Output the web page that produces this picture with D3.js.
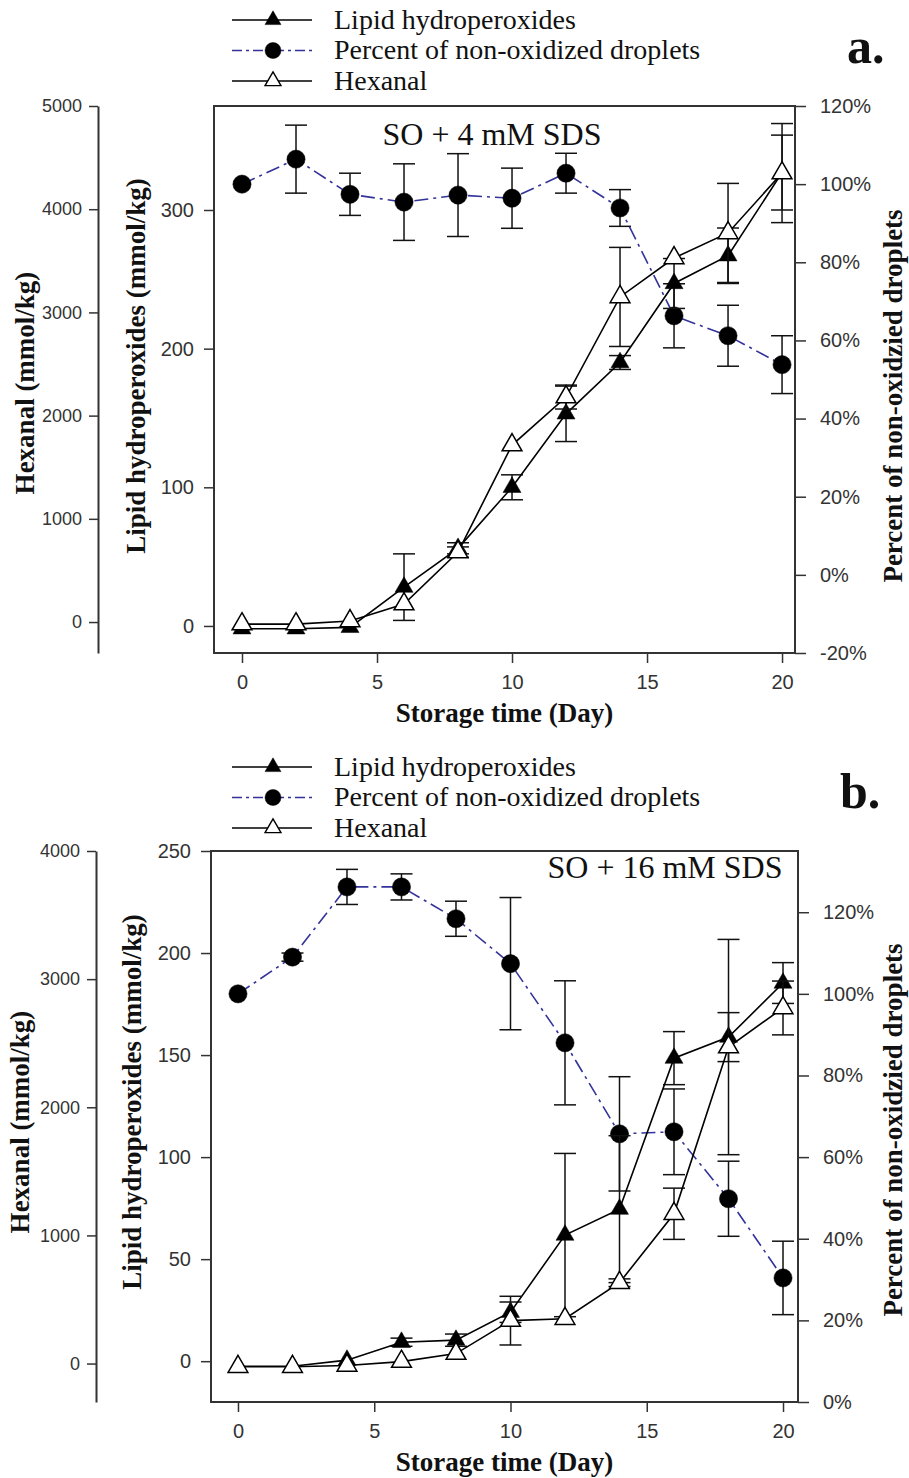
<!DOCTYPE html>
<html>
<head>
<meta charset="utf-8">
<script src="https://cdn.jsdelivr.net/npm/d3@7"></script>
<style>
body { margin: 0; background: #fff; }
svg { display: block; }
</style>
</head>
<body>
<div id="chart"></div>
<script>
var days = [0, 2, 4, 6, 8, 10, 12, 14, 16, 18, 20];
var xTicks = [0, 5, 10, 15, 20];
var legendLabels = ['Lipid hydroperoxides', 'Percent of non-oxidized droplets', 'Hexanal'];

// panel a - SO + 4 mM SDS
var lipidA = [-2, -2, -1, 28, 56, 100, 153, 190, 247, 267, 327];
var lipidErrA = [0, 0, 0, 24, 4, 9, 20, 5, 18, 20, 27];
var hexA = [-20, -20, 10, 174, 678, 1715, 2180, 3150, 3527, 3770, 4350];
var hexErrA = [0, 0, 0, 0, 50, 0, 116, 480, 0, 480, 480];
var pctA = [100, 106.4, 97.4, 95.4, 97.2, 96.4, 102.8, 93.9, 66.3, 61.2, 53.8];
var pctErrA = [0, 8.7, 5.4, 9.8, 10.6, 7.7, 5.1, 4.7, 8.2, 7.8, 7.4];
var lipidTicksA = [0, 100, 200, 300];
var hexTicksA = [0, 1000, 2000, 3000, 4000, 5000];
var pctTicksA = [-20, 0, 20, 40, 60, 80, 100, 120];

// panel b - SO + 16 mM SDS
var lipidB = [-2.5, -2.5, 0.5, 9.3, 10.3, 24, 61.8, 74.5, 148.5, 158.8, 185.3];
var lipidErrB = [0, 0, 0, 2, 3, 5, 40, 36, 13, 12, 10];
var hexB = [-25, -25, -15, 15, 78, 335, 350, 631, 1169, 2470, 2775];
var hexErrB = [0, 0, 0, 0, 0, 190, 0, 30, 200, 840, 210];
var pctB = [100, 109, 126.2, 126.2, 118.4, 107.4, 88.0, 65.7, 66.2, 49.8, 30.4];
var pctErrB = [0, 1, 4.3, 3.2, 4.3, 16.2, 15.2, 14, 10.5, 9.2, 9];
var lipidTicksB = [0, 50, 100, 150, 200, 250];
var hexTicksB = [0, 1000, 2000, 3000, 4000];
var pctTicksB = [0, 20, 40, 60, 80, 100, 120];

var width = 909, height = 1478;
var axisColor = '#333';
var blue = '#33339a';
var sans = "'Liberation Sans', Arial, sans-serif";
var serif = "'Liberation Serif', 'Times New Roman', serif";

var svg = d3.select('#chart').append('svg').attr('width', width).attr('height', height);

function zip(vals, errs) {
  return days.map(function (d, i) {
    return { day: d, v: vals[i], e: errs[i] };
  });
}

function styleAxis(g, size) {
  g.selectAll('.tick line').attr('stroke', axisColor).attr('stroke-width', 1.5);
  g.selectAll('.tick text').attr('fill', axisColor).style('font-family', sans).style('font-size', size + 'px');
}

function drawSeries(g, x, y, data, opts) {
  var bars = g.append('g');
  data.filter(function (d) { return d.e > 0; }).forEach(function (d) {
    var cx = x(d.day), y1 = y(d.v - d.e), y2 = y(d.v + d.e);
    bars.append('line').attr('x1', cx).attr('x2', cx).attr('y1', y1).attr('y2', y2);
    bars.append('line').attr('x1', cx - 11).attr('x2', cx + 11).attr('y1', y1).attr('y2', y1);
    bars.append('line').attr('x1', cx - 11).attr('x2', cx + 11).attr('y1', y2).attr('y2', y2);
  });
  bars.selectAll('line').attr('stroke', '#111').attr('stroke-width', 1.5);

  var line = d3.line().x(function (d) { return x(d.day); }).y(function (d) { return y(d.v); });
  g.append('path').datum(data).attr('d', line).attr('fill', 'none')
    .attr('stroke', opts.lineColor).attr('stroke-width', 1.6)
    .attr('stroke-dasharray', opts.dash || null);

  g.append('g').selectAll('path').data(data).join('path')
    .attr('transform', function (d) { return 'translate(' + x(d.day) + ',' + y(d.v) + ')'; })
    .attr('d', d3.symbol().type(opts.symbol).size(opts.size))
    .attr('fill', opts.fill).attr('stroke', '#000').attr('stroke-width', opts.fill === '#fff' ? 1.5 : 0.5);
}

var styles = {
  lipid: { symbol: d3.symbolTriangle, size: 140, fill: '#000', lineColor: '#000' },
  pct: { symbol: d3.symbolCircle, size: 260, fill: '#000', lineColor: blue, dash: '14,5,3,5' },
  hex: { symbol: d3.symbolTriangle, size: 170, fill: '#fff', lineColor: '#000' }
};

function drawPanel(p) {
  var g = svg.append('g');
  var x = d3.scaleLinear().domain(p.xDomain).range([p.left, p.right]);
  var yL = d3.scaleLinear().domain(p.lipidDomain).range([p.bottom, p.top]);
  var yH = d3.scaleLinear().domain(p.hexDomain).range([p.bottom, p.top]);
  var yP = d3.scaleLinear().domain(p.pctDomain).range([p.bottom, p.top]);

  var gx = g.append('g').attr('transform', 'translate(0,' + p.bottom + ')')
    .call(d3.axisBottom(x).tickValues(xTicks).tickSize(10).tickSizeOuter(0).tickPadding(12));
  gx.select('.domain').remove();
  styleAxis(gx, 20);

  var gl = g.append('g').attr('transform', 'translate(' + p.left + ',0)')
    .call(d3.axisLeft(yL).tickValues(p.lipidTicks).tickSize(10).tickSizeOuter(0).tickPadding(10));
  gl.select('.domain').remove();
  styleAxis(gl, 20);

  var gp = g.append('g').attr('transform', 'translate(' + p.right + ',0)')
    .call(d3.axisRight(yP).tickValues(p.pctTicks).tickSize(11).tickSizeOuter(0).tickPadding(14)
      .tickFormat(function (d) { return d + '%'; }));
  gp.select('.domain').remove();
  styleAxis(gp, 20);

  var gh = g.append('g').attr('transform', 'translate(' + p.hexX + ',0)')
    .call(d3.axisLeft(yH).tickValues(p.hexTicks).tickSize(9).tickSizeOuter(0).tickPadding(7)
      .tickFormat(d3.format('d')));
  gh.select('.domain').attr('stroke', axisColor).attr('stroke-width', 2);
  styleAxis(gh, 18);

  g.append('rect').attr('x', p.left).attr('y', p.top)
    .attr('width', p.right - p.left).attr('height', p.bottom - p.top)
    .attr('fill', 'none').attr('stroke', axisColor).attr('stroke-width', 2);

  drawSeries(g, x, yP, zip(p.pct, p.pctErr), styles.pct);
  drawSeries(g, x, yL, zip(p.lipid, p.lipidErr), styles.lipid);
  drawSeries(g, x, yH, zip(p.hex, p.hexErr), styles.hex);

  // titles
  var title = function (tx, ty, rot, txt) {
    g.append('text').attr('transform', 'translate(' + tx + ',' + ty + ')' + (rot ? ' rotate(-90)' : ''))
      .attr('text-anchor', 'middle').attr('dy', '0.35em')
      .style('font-family', serif).style('font-weight', 'bold').style('font-size', '27px')
      .attr('fill', '#111').text(txt);
  };
  title(p.hexTitle[0], p.hexTitle[1], true, 'Hexanal (mmol/kg)');
  title(p.lipidTitle[0], p.lipidTitle[1], true, 'Lipid hydroperoxides (mmol/kg)');
  title(p.pctTitle[0], p.pctTitle[1], true, 'Percent of non-oxidzied droplets');
  title((p.left + p.right) / 2, p.xTitleY, false, 'Storage time (Day)');

  g.append('text').attr('x', p.note[0]).attr('y', p.note[1]).attr('text-anchor', 'middle')
    .style('font-family', serif).style('font-size', '32px').attr('fill', '#111').text(p.noteText);

  g.append('text').attr('x', p.tag[0]).attr('y', p.tag[1])
    .style('font-family', serif).style('font-weight', 'bold').style('font-size', '50px')
    .attr('fill', '#111').text(p.tagText);

  // legend
  var leg = g.append('g');
  [styles.lipid, styles.pct, styles.hex].forEach(function (s, i) {
    var ly = p.legendTop + i * 30.5;
    leg.append('line').attr('x1', 232).attr('x2', 312).attr('y1', ly).attr('y2', ly)
      .attr('stroke', s.lineColor).attr('stroke-width', 1.6).attr('stroke-dasharray', s.dash ? '10,4,3,4' : null);
    leg.append('path').attr('transform', 'translate(273,' + ly + ')')
      .attr('d', d3.symbol().type(s.symbol).size(s === styles.pct ? 200 : 110))
      .attr('fill', s.fill).attr('stroke', '#000').attr('stroke-width', s.fill === '#fff' ? 1.4 : 0.5);
    leg.append('text').attr('x', 334).attr('y', ly).attr('dy', '0.32em')
      .style('font-family', serif).style('font-size', '28px').attr('fill', '#111').text(legendLabels[i]);
  });
}

drawPanel({
  left: 214, right: 795, top: 106, bottom: 653, hexX: 98,
  xDomain: [-1.037, 20.48], lipidDomain: [-19.5, 375], hexDomain: [-300, 5000], pctDomain: [-20, 120],
  lipid: lipidA, lipidErr: lipidErrA, hex: hexA, hexErr: hexErrA, pct: pctA, pctErr: pctErrA,
  lipidTicks: lipidTicksA, hexTicks: hexTicksA, pctTicks: pctTicksA,
  hexTitle: [25, 383], lipidTitle: [136, 366], pctTitle: [893, 396], xTitleY: 713,
  note: [492, 145], noteText: 'SO + 4 mM SDS',
  tag: [847, 63], tagText: 'a.', legendTop: 20
});

drawPanel({
  left: 211, right: 798, top: 851, bottom: 1402, hexX: 96,
  xDomain: [-0.99, 20.55], lipidDomain: [-20, 250], hexDomain: [-300, 4000], pctDomain: [0, 135],
  lipid: lipidB, lipidErr: lipidErrB, hex: hexB, hexErr: hexErrB, pct: pctB, pctErr: pctErrB,
  lipidTicks: lipidTicksB, hexTicks: hexTicksB, pctTicks: pctTicksB,
  hexTitle: [20, 1122], lipidTitle: [132, 1102], pctTitle: [893, 1130], xTitleY: 1462,
  note: [665, 878], noteText: 'SO + 16 mM SDS',
  tag: [840, 808], tagText: 'b.', legendTop: 767
});
</script>
</body>
</html>
